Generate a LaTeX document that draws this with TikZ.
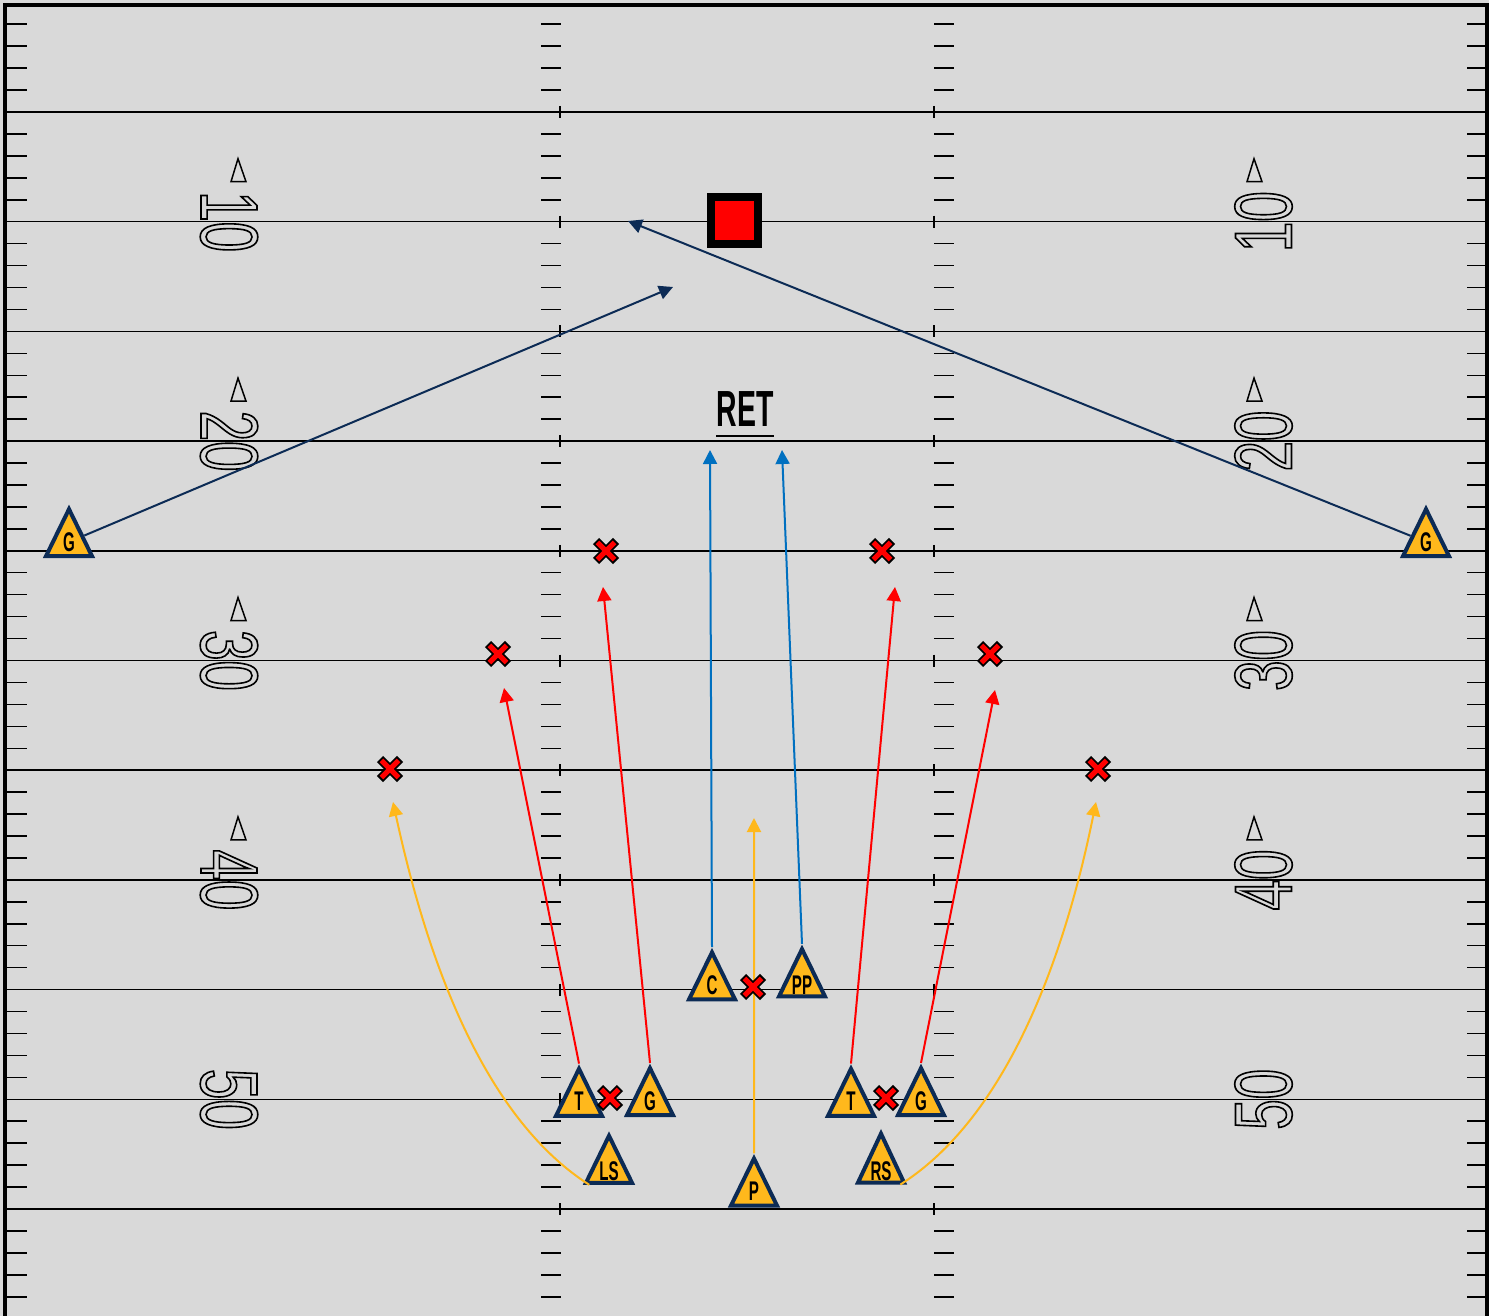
\documentclass[tikz,border=0pt]{standalone}
\usepackage{fontspec}
\usepackage{graphicx}
\setmainfont{Liberation Sans}
\newfontfamily\yardfont[FakeStretch=0.67]{Liberation Sans}
\newfontfamily\condfont[FakeStretch=0.56]{Liberation Sans Bold}
\usetikzlibrary{shapes.geometric,arrows.meta}
\definecolor{fieldgray}{RGB}{217,217,217}
\definecolor{navy}{HTML}{0C2B55}
\definecolor{gold}{HTML}{FFB81C}
\definecolor{playblue}{HTML}{0070C0}
\definecolor{playred}{HTML}{FF0000}
\newcommand\outlinetext[1]{\special{pdf:literal direct 1 Tr 0.8 w}#1\special{pdf:literal direct 0 Tr}}
\begin{document}
\begin{tikzpicture}[x=0.5pt,y=-0.5pt,
  fieldline/.style={black, line width=0.75pt},
  player/.style={isosceles triangle, isosceles triangle stretches, shape border rotate=90,
    minimum width=23pt, minimum height=23.5pt, inner sep=0.5pt, fill=gold, draw=navy,
    line width=2pt, text=black, font=\condfont\fontsize{13.5}{13.5}\selectfont},
  route/.style={line width=1pt, -{Triangle[length=7pt,width=7pt]}},
  navyroute/.style={route, navy},
  redroute/.style={route, playred},
  blueroute/.style={route, playblue},
  goldroute/.style={route, gold},
  xmark/.style={minimum size=16pt, inner sep=0pt, path picture={
    \draw[black, line width=4.4pt]
      ([shift={(-5pt,-5pt)}]path picture bounding box.center) -- ([shift={(5pt,5pt)}]path picture bounding box.center)
      ([shift={(-5pt,5pt)}]path picture bounding box.center) -- ([shift={(5pt,-5pt)}]path picture bounding box.center);
    \draw[playred, line width=2.6pt]
      ([shift={(-4.3pt,-4.3pt)}]path picture bounding box.center) -- ([shift={(4.3pt,4.3pt)}]path picture bounding box.center)
      ([shift={(-4.3pt,4.3pt)}]path picture bounding box.center) -- ([shift={(4.3pt,-4.3pt)}]path picture bounding box.center);
  }},
  yardnum/.style={inner sep=0pt, font=\yardfont\fontsize{40.7}{40.7}\selectfont},
  retlabel/.style={inner sep=0pt, font=\condfont\fontsize{25.4}{25.4}\selectfont}
]
\useasboundingbox (0,0) rectangle (1489,1316);
\fill[fieldgray] (0,0) rectangle (1489,1316);

% hash ticks
\foreach \k in {-1,...,10}{
  \foreach \j in {1,...,4}{
    \pgfmathsetmacro\yy{112+109.7*\k+21.94*\j}
    \draw[fieldline] (7,\yy) -- (27,\yy) (541,\yy) -- (561,\yy) (934,\yy) -- (954,\yy) (1467,\yy) -- (1486,\yy);
  }
}
% yard lines
\foreach \k in {0,...,10}{
  \pgfmathsetmacro\yy{112+109.7*\k}
  \draw[fieldline] (5,\yy) -- (1486,\yy);
  \draw[fieldline] (560,\yy-6) -- (560,\yy+6) (934,\yy-6) -- (934,\yy+6);
}
% border
\draw[black, line width=2pt] (4.7,1330) -- (4.7,4.7) -- (1486.5,4.7) -- (1486.5,1330);

% yard numbers
\foreach \Y/\n in {221.7/10, 441.1/20, 660.5/30, 879.9/40, 1099.3/50}{
  \node[yardnum, rotate=-90] (numL\n) at (229,\Y) {\outlinetext{\n}};
  \node[yardnum, rotate=90] (numR\n) at (1263.5,\Y) {\outlinetext{\n}};
}
\foreach \Y in {221.7, 441.1, 660.5, 879.9}{
  \draw[black, line width=0.75pt] (231,\Y-40) -- (238,\Y-63) -- (246,\Y-40) -- cycle;
  \draw[black, line width=0.75pt] (1247,\Y-40) -- (1254,\Y-63) -- (1262,\Y-40) -- cycle;
}

% returner box and label
\node[draw=black, line width=4pt, fill=playred, minimum size=23.5pt, inner sep=0pt] (retbox) at (734.5,220.5) {};
\node[retlabel] (ret) at (745,409.5) {RET};
\draw[black, line width=1.2pt] ([yshift=-4.5pt]ret.base west) -- ([yshift=-4.5pt]ret.base east);

% players
\node[player] (gL) at (69,542) {G};
\node[player] (gR) at (1426,542) {G};
\node[player] (tL) at (579,1101) {T};
\node[player] (gLi) at (650,1101) {G};
\node[player] (ls) at (609,1171) {LS};
\node[player] (c) at (712,985) {C};
\node[player] (pp) at (802,985) {PP};
\node[player] (p) at (754,1191) {P};
\node[player] (tR) at (851,1101) {T};
\node[player] (gRi) at (921,1101) {G};
\node[player] (rs) at (881,1171) {RS};

% route end points
\coordinate (gLtip) at (673,287);
\coordinate (gRtip) at (628,221);
\coordinate (tLtip) at (504,688);
\coordinate (gLitip) at (603,587);
\coordinate (tRtip) at (895,587);
\coordinate (gRitip) at (995,690);
\coordinate (ctip) at (710,450);
\coordinate (pptip) at (782,450);
\coordinate (ptip) at (754,818);
\coordinate (lstip) at (393,802);
\coordinate (rstip) at (1096,802);

% routes
\draw[navyroute] (gL) -- (gLtip);
\draw[navyroute] (gR) -- (gRtip);
\draw[redroute] (tL.north) -- (tLtip);
\draw[redroute] (gLi.north) -- (gLitip);
\draw[redroute] (tR.north) -- (tRtip);
\draw[redroute] (gRi.north) -- (gRitip);
\draw[blueroute] (c.north) -- (ctip);
\draw[blueroute] (pp.north) -- (pptip);
\draw[goldroute] (p.north) -- (ptip);
\draw[goldroute] (ls.215) .. controls (480,1115) and (425,950) .. (lstip);
\draw[goldroute] (rs.-35) .. controls (1010,1115) and (1066,950) .. (rstip);

% x marks
\node[xmark] (x1) at (753,987) {};
\node[xmark] (x2) at (610,1098) {};
\node[xmark] (x3) at (886,1098) {};
\node[xmark] (x4) at (606,551) {};
\node[xmark] (x5) at (882,551) {};
\node[xmark] (x6) at (498,654) {};
\node[xmark] (x7) at (990,654) {};
\node[xmark] (x8) at (390,769) {};
\node[xmark] (x9) at (1098,769) {};
\end{tikzpicture}
\end{document}
